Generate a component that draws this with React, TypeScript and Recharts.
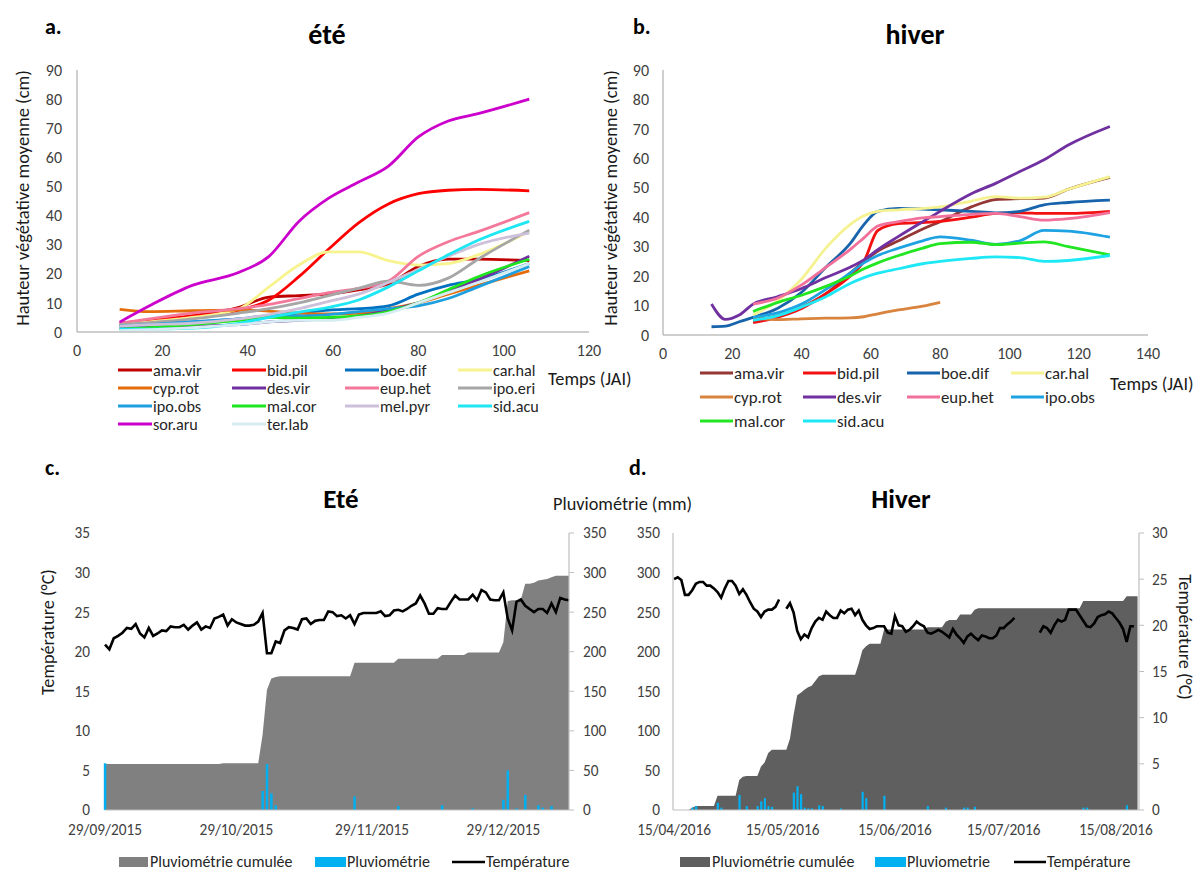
import React from 'react';
import { LineChart, Line, XAxis, YAxis, ComposedChart, Area, Bar } from 'recharts';

const FONT = 'Carlito, Lato, "Liberation Sans", Arial, sans-serif';

// ---------- Panel a (été) ----------
const DAYS_A = [10, 17, 27, 38, 45, 52, 59, 66, 73, 80, 87, 94, 106];
const A_AMAVIR = [2.5, 3.5, 5.5, 8.5, 12, 12.5, 13, 14.5, 16.5, 22.5, 25, 25, 24.5];
const A_BIDPIL = [3, 4, 5.5, 7.5, 11, 19, 28.5, 37.5, 44, 47.5, 48.7, 49, 48.5];
const A_BOEDIF = [2.5, 3, 3.5, 4.5, 5.5, 6.5, 7.5, 8, 9, 13, 16, 18, 23.5];
const A_CARHAL = [2.5, 3.5, 5, 8, 15.5, 23, 27.5, 27.5, 24.5, 23, 23.5, 26.5, 34.5];
const A_CYPROT = [7.8, 7, 7.3, 7.5, 7.2, 6.5, 6.2, 6.5, 8, 10, 13, 16, 21];
const A_DESVIR = [1.5, 1.8, 2, 2.5, 3.5, 4, 4.5, 5.5, 7.5, 10, 14, 18, 26];
const A_EUPHET = [3, 4.5, 6.5, 8, 9.5, 11.5, 13.5, 15, 17.5, 26, 31, 34.5, 41];
const A_IPOERI = [2.5, 3.2, 4.5, 6.5, 8, 10, 12.5, 15, 17.5, 16, 18.5, 25, 35];
const A_IPOOBS = [2, 2.5, 3.5, 4.5, 5.5, 5.5, 6, 7, 8, 9, 11.5, 15.5, 22.5];
const A_MALCOR = [1, 1.5, 2.5, 4, 5, 4.8, 5, 5.5, 7, 10, 14.5, 19, 25];
const A_MELPYR = [2, 2.5, 3, 4.5, 6, 8, 10.5, 13, 17, 21.5, 26, 30, 34];
const A_SIDACU = [1, 1, 1.3, 3, 5, 6.8, 8.5, 11, 15.5, 21, 26.5, 31.5, 38];
const A_SORARU = [3.4, 9, 16, 20.5, 26, 38, 46, 51.5, 57, 67, 72.5, 75, 80];
const A_TERLAB = [0.5, 0.8, 1.5, 2.5, 3.5, 4, 4, 5, 6.5, 10, 13.5, 17, 23.5];

const SERIES_A = [
  { name: 'ama.vir', values: A_AMAVIR, color: '#C00000' },
  { name: 'bid.pil', values: A_BIDPIL, color: '#FF0000' },
  { name: 'boe.dif', values: A_BOEDIF, color: '#0070C0' },
  { name: 'car.hal', values: A_CARHAL, color: '#F7F38E' },
  { name: 'cyp.rot', values: A_CYPROT, color: '#E46C0A' },
  { name: 'des.vir', values: A_DESVIR, color: '#7030A0' },
  { name: 'eup.het', values: A_EUPHET, color: '#F4789A' },
  { name: 'ipo.eri', values: A_IPOERI, color: '#A6A6A6' },
  { name: 'ipo.obs', values: A_IPOOBS, color: '#1E9FE0' },
  { name: 'mal.cor', values: A_MALCOR, color: '#1EE61E' },
  { name: 'mel.pyr', values: A_MELPYR, color: '#CCC0DA' },
  { name: 'sid.acu', values: A_SIDACU, color: '#1EE6F2' },
  { name: 'sor.aru', values: A_SORARU, color: '#CC00CC' },
  { name: 'ter.lab', values: A_TERLAB, color: '#D5ECF2' },
];

// ---------- Panel b (hiver) ----------
const DAYS_B = [14, 18, 22, 26, 33, 40, 47, 54, 58, 62, 68, 75, 80, 89, 96, 103, 110, 117, 129];
const B_AMAVIR = [null, null, null, 5, 6.5, 9.5, 14, 21, 25, 28.5, 32, 36, 38.5, 43.5, 46, 46.3, 46.5, 49.5, 53.5];
const B_BIDPIL = [null, null, null, 4.2, 6, 9, 14, 20, 25, 35.5, 37.8, 38.2, 38.6, 40, 41.3, 41.5, 41.3, 41.3, 42];
const B_BOEDIF = [2.8, 3, 4.5, 6, 9, 14.5, 23, 31, 37.5, 42, 43, 42.8, 42.5, 42, 41.5, 42, 44.2, 45, 45.8];
const B_CARHAL = [null, null, null, 6.8, 11.5, 19, 29.5, 37.5, 40.5, 42, 42.5, 43, 43.5, 45.5, 47, 46.5, 46.8, 49.5, 53.8];
const B_CYPROT = [null, null, null, 6, 5.2, 5.5, 5.7, 5.8, 6.2, 7.2, 8.5, 9.8, 11.1, null, null, null, null, null, null];
const B_DESVIR = [10.5, 5.3, 6.8, 10.5, 13, 15.8, 19.5, 23, 25.5, 29, 33.5, 38.5, 42, 48, 51.5, 55.5, 59.5, 64.5, 70.8];
const B_EUPHET = [null, null, null, 10.5, 12.5, 17, 23, 29, 33, 37, 38.5, 39.8, 40.2, 41, 41.3, 40.2, 39, 39.5, 41.6];
const B_IPOOBS = [null, null, null, 6, 7.5, 10.5, 15.5, 21, 24.5, 27, 29.5, 32, 33.3, 32.2, 30.8, 32, 35.5, 35.3, 33.2];
const B_MALCOR = [null, null, null, 8, 11, 13.5, 16.5, 20, 22.5, 24.5, 27, 29.5, 31, 31.5, 30.7, 31.2, 31.6, 30, 27.2];
const B_SIDACU = [null, null, null, 5, 6.5, 9.5, 13, 17.5, 19.5, 21, 22.5, 24.2, 25, 26, 26.5, 26.3, 25, 25.3, 27];

const SERIES_B = [
  { name: 'ama.vir', values: B_AMAVIR, color: '#953735' },
  { name: 'bid.pil', values: B_BIDPIL, color: '#F21010' },
  { name: 'boe.dif', values: B_BOEDIF, color: '#1763AC' },
  { name: 'car.hal', values: B_CARHAL, color: '#F5F292' },
  { name: 'cyp.rot', values: B_CYPROT, color: '#D9843E' },
  { name: 'des.vir', values: B_DESVIR, color: '#7030A0' },
  { name: 'eup.het', values: B_EUPHET, color: '#F2719A' },
  { name: 'ipo.obs', values: B_IPOOBS, color: '#1EA2E2' },
  { name: 'mal.cor', values: B_MALCOR, color: '#22E622' },
  { name: 'sid.acu', values: B_SIDACU, color: '#1EE8F5' },
];

// ---------- Panel c (Eté) : from 29/09/2015 ----------
const TICKS_C = [0, 30, 61, 91];
const TICK_LABELS_C = ['29/09/2015', '29/10/2015', '29/11/2015', '29/12/2015'];
const TEMP_C = [
  20.9, 20.3, 21.7, 22.0, 22.4, 23.0, 22.9, 23.5, 22.3, 21.8,
  23.0, 22.0, 22.3, 22.7, 22.6, 23.2, 23.1, 23.1, 23.4, 22.8,
  23.3, 23.7, 22.8, 23.2, 23.0, 24.2, 24.4, 24.7, 23.3, 24.1,
  23.7, 23.5, 23.3, 23.3, 23.4, 23.8, 24.9, 19.8, 19.8, 21.3,
  21.1, 22.7, 23.1, 23.0, 22.8, 24.1, 24.2, 23.5, 23.9, 24.0,
  24.0, 25.1, 25.0, 24.5, 24.6, 24.2, 24.6, 23.5, 24.7, 24.9,
  24.9, 24.9, 24.9, 25.1, 24.5, 24.6, 25.2, 25.3, 25.1, 25.4,
  25.8, 26.1, 27.1, 26.1, 24.8, 24.8, 25.5, 25.4, 25.4, 26.3,
  27.1, 26.6, 26.6, 26.6, 27.2, 26.5, 27.8, 27.5, 26.6, 26.5,
  26.5, 27.5, 24.2, 22.7, 26.3, 26.6, 25.8, 25.4, 25.0, 25.4,
  25.4, 24.9, 26.1, 25.0, 26.8, 26.6, 26.5,
];
const CUM_C = [
  58, 58, 58, 58, 58, 58, 58, 58, 58, 58,
  58, 58, 58, 58, 58, 58, 58, 58, 58, 58,
  58, 58, 58, 58, 58, 58, 58, 59, 59, 59,
  59, 59, 59, 59, 59, 59, 95, 152, 166, 168,
  169, 169, 169, 169, 169, 169, 169, 169, 169, 169,
  169, 169, 169, 169, 169, 169, 169, 186, 186, 186,
  186, 186, 186, 186, 186, 186, 186, 191, 191, 191,
  191, 191, 191, 191, 191, 191, 191, 196, 196, 196,
  196, 196, 196, 199, 199, 199, 199, 199, 199, 199,
  199, 212, 264, 265, 265, 266, 286, 286, 287, 290,
  291, 292, 294, 296, 296, 296, 296,
];
const RAIN_DAYS_C = [0, 36, 37, 38, 39, 57, 67, 77, 84, 91, 92, 94, 96, 99, 100, 102];
const RAIN_MM_C = [59, 24, 58, 21, 6, 17, 5, 6, 2, 13, 50, 2, 19, 6, 3, 5];

// ---------- Panel d (Hiver) : from 15/04/2016 ----------
const TICKS_D = [0, 30, 61, 91, 122];
const TICK_LABELS_D = ['15/04/2016', '15/05/2016', '15/06/2016', '15/07/2016', '15/08/2016'];
const TEMP_D = [
  25.0, 25.2, 24.9, 23.3, 23.3, 23.8, 24.5, 24.7, 24.7, 24.3,
  24.3, 24.0, 23.6, 23.0, 24.0, 24.8, 24.8, 24.3, 23.4, 23.9,
  23.3, 22.5, 21.8, 21.5, 20.9, 21.5, 21.7, 21.7, 22.0, 22.8,
  null, 21.8, 22.4, 21.4, 19.4, 18.5, 19.0, 18.7, 19.7, 20.4,
  20.8, 20.6, 21.5, 21.1, 20.8, 20.8, 21.6, 21.3, 21.7, 21.8,
  21.1, 21.6, 20.6, 20.0, 19.6, 19.7, 19.9, 19.9, 19.9, 19.2,
  19.1, 21.0, 20.0, 19.9, 19.3, 19.5, 19.9, 20.4, 20.1, 19.9,
  19.2, 19.1, 19.3, 19.5, 19.3, 19.0, 18.7, 19.6, 19.0, 18.6,
  18.1, 18.8, 19.1, 18.7, 18.4, 18.9, 18.8, 18.6, 18.6, 18.9,
  19.7, 19.7, 20.1, 20.4, 20.8, null, null, null, null, null,
  null, 19.2, 19.9, 19.7, 19.2, 20.0, 20.6, 20.4, 20.6, 21.7,
  21.7, 21.7, 21.1, 20.5, 19.9, 19.8, 20.2, 20.9, 21.1, 21.2,
  21.5, 21.3, 20.8, 20.3, 19.6, 18.2, 19.9, 19.9,
];
const CUM_D = [
  0, 0, 0, 0, 0, 3, 5, 5, 5, 5,
  5, 5, 18, 18, 18, 18, 18, 18, 38, 42,
  43, 43, 43, 43, 55, 60, 72, 76, 76, 76,
  76, 76, 90, 120, 145, 148, 152, 155, 157, 163,
  169, 171, 171, 171, 171, 171, 171, 171, 171, 171,
  171, 185, 202, 207, 210, 210, 210, 210, 228, 228,
  228, 228, 228, 228, 228, 228, 228, 228, 228, 228,
  231, 231, 231, 231, 231, 238, 240, 240, 240, 247,
  247, 247, 247, 253, 255, 255, 255, 255, 255, 255,
  255, 255, 255, 255, 255, 255, 255, 255, 255, 255,
  255, 255, 255, 255, 255, 255, 255, 255, 255, 255,
  255, 255, 255, 264, 264, 264, 264, 264, 264, 264,
  264, 264, 264, 264, 264, 270, 270, 270, 270,
];
const RAIN_DAYS_D = [5, 6, 12, 13, 18, 20, 23, 24, 25, 26, 27, 33, 34, 35, 36, 37, 38, 40, 41, 46, 52, 53, 58, 70, 75, 80, 81, 83, 113, 114, 125];
const RAIN_MM_D = [3, 5, 9, 3, 19, 5, 5, 11, 15, 5, 4, 22, 30, 20, 3, 2, 2, 6, 5, 2, 23, 15, 18, 5, 3, 3, 3, 4, 3, 3, 6];

// ---------- tables built from the arrays ----------
function buildRows(days: number[], series: { name: string; values: (number | null)[] }[]) {
  return days.map((x, i) => {
    const r: any = { x };
    series.forEach((s) => { r[s.name] = s.values[i]; });
    return r;
  });
}
const rowsA = buildRows(DAYS_A, SERIES_A);
const rowsB = buildRows(DAYS_B, SERIES_B);

function buildClimate(temp: (number | null)[], cum: number[], rainDays: number[], rainMm: number[]) {
  const n = Math.max(temp.length, cum.length);
  const rows: any[] = [];
  for (let i = 0; i < n; i++) {
    rows.push({ d: i, temp: i < temp.length ? temp[i] : null, cum: i < cum.length ? cum[i] : null, rain: null });
  }
  rainDays.forEach((d, k) => { rows[d].rain = rainMm[k]; });
  return rows;
}
const rowsC = buildClimate(TEMP_C, CUM_C, RAIN_DAYS_C, RAIN_MM_C);
const rowsD = buildClimate(TEMP_D, CUM_D, RAIN_DAYS_D, RAIN_MM_D);

const TICK_STYLE = { fill: '#404040', fontSize: 16, fontFamily: FONT };
const TICK_STYLE_SM = { fill: '#404040', fontSize: 15.3, fontFamily: FONT };
const AXIS_GRAY = '#BFBFBF';

const HEIGHT_TICKS = [0, 10, 20, 30, 40, 50, 60, 70, 80, 90];

function GrowthChart(props: { rows: any[]; series: any[]; xMax: number; xTicks: number[]; width: number; yW: number; mRight: number; xH: number; tickMargin: number; yMargin: number }) {
  const { rows, series, xMax, xTicks, width, yW, mRight, xH, tickMargin, yMargin } = props;
  return (
    <LineChart width={width} height={320} data={rows} margin={{ top: 10, right: mRight, bottom: 0, left: 0 }}>
      <XAxis
        dataKey="x"
        type="number"
        domain={[0, xMax]}
        ticks={xTicks}
        interval={0}
        height={xH}
        tickLine={false}
        tickSize={0}
        tickMargin={tickMargin}
        axisLine={{ stroke: AXIS_GRAY, strokeWidth: 1.5 }}
        tick={TICK_STYLE}
      />
      <YAxis
        type="number"
        domain={[0, 90]}
        ticks={HEIGHT_TICKS}
        interval={0}
        width={yW}
        tickLine={false}
        tickSize={0}
        tickMargin={yMargin}
        axisLine={{ stroke: AXIS_GRAY, strokeWidth: 1.5 }}
        tick={TICK_STYLE}
      />
      {series.map((s: any) => (
        <Line
          key={s.name}
          dataKey={s.name}
          type="monotone"
          stroke={s.color}
          strokeWidth={2.8}
          dot={false}
          activeDot={false}
          isAnimationActive={false}
        />
      ))}
    </LineChart>
  );
}

function ClimateChart(props: any) {
  const { rows, width, leftW, rightW, xDomain, ticks, tickLabels, areaColor, tempOnLeft, tempMax, tempTicks, barSize } = props;
  const pluvTicks = [0, 50, 100, 150, 200, 250, 300, 350];
  const tempAxis = (
    <YAxis
      yAxisId="t"
      orientation={tempOnLeft ? 'left' : 'right'}
      type="number"
      domain={[0, tempMax]}
      ticks={tempTicks}
      interval={0}
      width={tempOnLeft ? leftW : rightW}
      axisLine={tempOnLeft ? false : { stroke: AXIS_GRAY, strokeWidth: 1.2 }}
      tickLine={tempOnLeft ? false : { stroke: AXIS_GRAY }}
      tickSize={tempOnLeft ? 0 : 5}
      tickMargin={tempOnLeft ? 15 : 8}
      tick={TICK_STYLE_SM}
    />
  );
  const pluvAxis = (
    <YAxis
      yAxisId="p"
      orientation={tempOnLeft ? 'right' : 'left'}
      type="number"
      domain={[0, 350]}
      ticks={pluvTicks}
      interval={0}
      width={tempOnLeft ? rightW : leftW}
      axisLine={{ stroke: AXIS_GRAY, strokeWidth: 1.2 }}
      tickLine={tempOnLeft ? { stroke: AXIS_GRAY } : false}
      tickSize={tempOnLeft ? 5 : 0}
      tickMargin={tempOnLeft ? 9 : 13}
      tick={TICK_STYLE_SM}
    />
  );
  return (
    <ComposedChart width={width} height={325} data={rows} margin={{ top: 13, right: 0, bottom: 0, left: 0 }}>
      <XAxis
        dataKey="d"
        type="number"
        domain={xDomain}
        ticks={ticks}
        interval={0}
        height={35}
        tickLine={false}
        tickSize={0}
        tickMargin={14}
        axisLine={{ stroke: AXIS_GRAY, strokeWidth: 1.2 }}
        tick={TICK_STYLE_SM}
        tickFormatter={(v: number) => tickLabels[ticks.indexOf(v)]}
      />
      {tempOnLeft ? tempAxis : pluvAxis}
      {tempOnLeft ? pluvAxis : tempAxis}
      <Area
        yAxisId="p"
        dataKey="cum"
        type="linear"
        fill={areaColor}
        fillOpacity={1}
        stroke="none"
        connectNulls
        isAnimationActive={false}
        dot={false}
        activeDot={false}
      />
      <Bar yAxisId="p" dataKey="rain" fill="#00B0F0" barSize={barSize} isAnimationActive={false} />
      <Line
        yAxisId="t"
        dataKey="temp"
        type="linear"
        stroke="#000000"
        strokeWidth={2.6}
        dot={false}
        activeDot={false}
        connectNulls={false}
        isAnimationActive={false}
      />
    </ComposedChart>
  );
}

const LEG_A_COLS = [118, 232, 345, 458];
const LEG_A_ROWS = [370, 388, 406, 424];
const LEG_B_COLS = [700, 803, 907, 1011];
const LEG_B_ROWS = [373, 397, 421];

function Overlay() {
  const title = { fontFamily: FONT, fontWeight: 700, fill: '#000' } as any;
  const label = { fontFamily: FONT, fill: '#1a1a1a' } as any;
  const legText = { fontFamily: FONT, fill: '#262626' } as any;
  return (
    <svg width={1195} height={870} style={{ position: 'absolute', left: 0, top: 0, pointerEvents: 'none' }}>
      <text x={45} y={26} fontSize={22} dominantBaseline="central" {...title}>a.</text>
      <text x={327} y={34} fontSize={28} textAnchor="middle" dominantBaseline="central" {...title}>été</text>
      <text x={633} y={26} fontSize={22} dominantBaseline="central" {...title}>b.</text>
      <text x={915} y={34} fontSize={28} textAnchor="middle" dominantBaseline="central" {...title}>hiver</text>
      <text x={45} y={467} fontSize={22} dominantBaseline="central" {...title}>c.</text>
      <text x={341} y={498} fontSize={27} textAnchor="middle" dominantBaseline="central" {...title}>Eté</text>
      <text x={629} y={467} fontSize={22} dominantBaseline="central" {...title}>d.</text>
      <text x={901} y={498} fontSize={27} textAnchor="middle" dominantBaseline="central" {...title}>Hiver</text>

      <text transform="translate(22,198) rotate(-90)" fontSize={18.5} textAnchor="middle" dominantBaseline="central" {...label}>Hauteur végétative moyenne (cm)</text>
      <text transform="translate(610,198) rotate(-90)" fontSize={18.5} textAnchor="middle" dominantBaseline="central" {...label}>Hauteur végétative moyenne (cm)</text>
      <text transform="translate(48,632) rotate(-90)" fontSize={18.2} textAnchor="middle" dominantBaseline="central" {...label}>Température (°C)</text>
      <text transform="translate(1185,637) rotate(90)" fontSize={18.2} textAnchor="middle" dominantBaseline="central" {...label}>Température (°C)</text>
      <text x={553} y={504} fontSize={18.3} dominantBaseline="central" {...label}>Pluviométrie (mm)</text>
      <text x={548} y={379} fontSize={18.3} dominantBaseline="central" {...label}>Temps (JAI)</text>
      <text x={1110} y={384} fontSize={18.3} dominantBaseline="central" {...label}>Temps (JAI)</text>

      {SERIES_A.map((s, i) => {
        const x0 = LEG_A_COLS[i % 4];
        const y0 = LEG_A_ROWS[Math.floor(i / 4)];
        return (
          <g key={'la' + s.name}>
            <line x1={x0} x2={x0 + 34} y1={y0} y2={y0} stroke={s.color} strokeWidth={3} />
            <text x={x0 + 35} y={y0} fontSize={16.2} dominantBaseline="central" {...legText}>{s.name}</text>
          </g>
        );
      })}
      {SERIES_B.map((s, i) => {
        const x0 = LEG_B_COLS[i % 4];
        const y0 = LEG_B_ROWS[Math.floor(i / 4)];
        return (
          <g key={'lb' + s.name}>
            <line x1={x0} x2={x0 + 33} y1={y0} y2={y0} stroke={s.color} strokeWidth={3} />
            <text x={x0 + 34} y={y0} fontSize={16.8} dominantBaseline="central" {...legText}>{s.name}</text>
          </g>
        );
      })}

      <rect x={119} y={857} width={29} height={10} fill="#808080" />
      <text x={150} y={861} fontSize={16} dominantBaseline="central" {...legText}>Pluviométrie cumulée</text>
      <rect x={315} y={857} width={31} height={10} fill="#00B0F0" />
      <text x={347} y={861} fontSize={16} dominantBaseline="central" {...legText}>Pluviométrie</text>
      <line x1={452} x2={485} y1={862} y2={862} stroke="#000" strokeWidth={2.5} />
      <text x={486} y={861} fontSize={16} dominantBaseline="central" {...legText}>Température</text>

      <rect x={680} y={857} width={30} height={10} fill="#5F5F5F" />
      <text x={712} y={861} fontSize={16} dominantBaseline="central" {...legText}>Pluviométrie cumulée</text>
      <rect x={875} y={857} width={31} height={10} fill="#00B0F0" />
      <text x={907} y={861} fontSize={16} dominantBaseline="central" {...legText}>Pluviometrie</text>
      <line x1={1014} x2={1046} y1={862} y2={862} stroke="#000" strokeWidth={2.5} />
      <text x={1047} y={861} fontSize={16} dominantBaseline="central" {...legText}>Température</text>
    </svg>
  );
}

export default function App() {
  return (
    <div style={{ position: 'absolute', left: 0, top: 0, width: 1195, height: 870, background: '#fff', fontFamily: FONT, overflow: 'hidden' }}>
      <div style={{ position: 'absolute', left: 0, top: 60 }}>
        <GrowthChart rows={rowsA} series={SERIES_A} xMax={120} xTicks={[0, 20, 40, 60, 80, 100, 120]} width={615} yW={77} mRight={26} xH={48} tickMargin={13} yMargin={15} />
      </div>
      <div style={{ position: 'absolute', left: 600, top: 60 }}>
        <GrowthChart rows={rowsB} series={SERIES_B} xMax={140} xTicks={[0, 20, 40, 60, 80, 100, 120, 140]} width={575} yW={63} mRight={27} xH={45} tickMargin={13} yMargin={14} />
      </div>
      <div style={{ position: 'absolute', left: 0, top: 520 }}>
        <ClimateChart
          rows={rowsC}
          width={620}
          leftW={105}
          rightW={51}
          xDomain={[0, 106]}
          ticks={TICKS_C}
          tickLabels={TICK_LABELS_C}
          areaColor="#808080"
          tempOnLeft={true}
          tempMax={35}
          tempTicks={[0, 5, 10, 15, 20, 25, 30, 35]}
          barSize={2.5}
        />
      </div>
      <div style={{ position: 'absolute', left: 600, top: 520 }}>
        <ClimateChart
          rows={rowsD}
          width={595}
          leftW={73}
          rightW={56}
          xDomain={[-0.3, 128.4]}
          ticks={TICKS_D}
          tickLabels={TICK_LABELS_D}
          areaColor="#5F5F5F"
          tempOnLeft={false}
          tempMax={30}
          tempTicks={[0, 5, 10, 15, 20, 25, 30]}
          barSize={2.2}
        />
      </div>
      <Overlay />
    </div>
  );
}
